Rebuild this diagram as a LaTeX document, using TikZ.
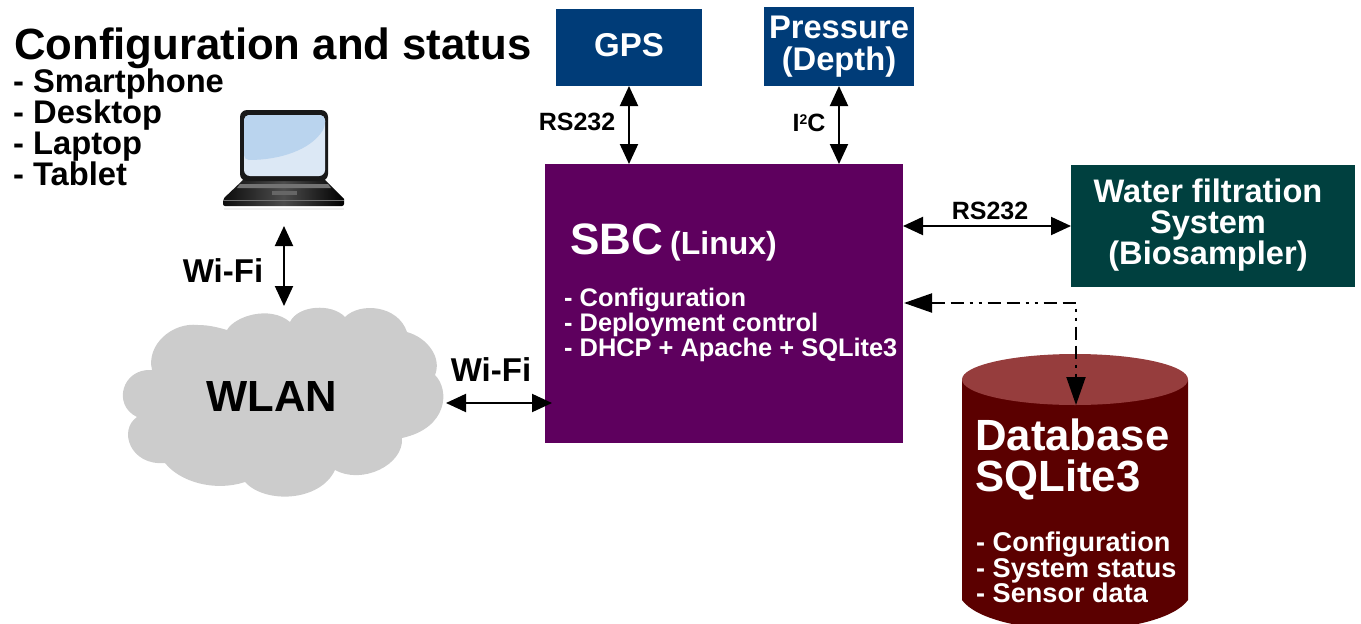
\documentclass[tikz,border=0pt]{standalone}
\usepackage{fontspec}
\setmainfont{Liberation Sans}
\usetikzlibrary{arrows.meta,calc}
\definecolor{gpsblue}{HTML}{003C78}
\definecolor{sbcpurple}{HTML}{5E005E}
\definecolor{filtergreen}{HTML}{00403F}
\definecolor{dbred}{HTML}{5B0000}
\definecolor{dbtop}{HTML}{963D3D}
\definecolor{cloudgray}{HTML}{CCCCCC}
\definecolor{screenlow}{HTML}{DCE8F5}
\definecolor{screentop}{HTML}{BAD4EE}
\tikzset{
	box/.style={draw=none,fill=#1,text=white,inner sep=0,outer sep=0,align=center,font=\bfseries},
	lab/.style={inner sep=0,font=\bfseries,text=black},
	link/.style={<->,line width=2pt,>={Triangle[length=20pt,width=18pt]}},
}
\begin{document}
\begin{tikzpicture}[x=1pt,y=-1pt]
	\useasboundingbox (0,0) rectangle (1361,624);
	% boxes
	\node[box=gpsblue,minimum width=146,minimum height=77] (gps) at (629,47.5) {};
	\node[lab,text=white,font=\bfseries\fontsize{33}{33}\selectfont] (gpstext) at (629,45) {GPS};
	\node[box=gpsblue,minimum width=150,minimum height=79,font=\bfseries\fontsize{32.7}{31.5}\selectfont] (press) at (839,46.5) {Pressure\\(Depth)};
	\node[box=sbcpurple,minimum width=358,minimum height=279] (sbc) at (724,303.5) {};
	\node[box=filtergreen,minimum width=284,minimum height=122] (filter) at (1213,226) {};
	\node[lab,text=white,align=center,font=\bfseries\fontsize{32.6}{31}\selectfont] (filtertext) at (1208,225) {Water filtration\\System\\(Biosampler)};
	\node[lab,text=white,anchor=base west,font=\bfseries\fontsize{44}{44}\selectfont] (sbctitle) at (570,254) {SBC};
	\node[lab,text=white,anchor=base west,font=\bfseries\fontsize{32}{32}\selectfont] (sbclinux) at (670,254) {(Linux)};
	\node[lab,text=white,anchor=north west,align=left,font=\bfseries\fontsize{25.4}{25}\selectfont] (sbclist) at (564,288) {- Configuration\\- Deployment control\\- DHCP + Apache + SQLite3};
	% heading
	\node[lab,anchor=base west,font=\bfseries\fontsize{43.7}{43.7}\selectfont] (title) at (14,59) {Configuration and status};
	\node[lab,anchor=north west,align=left,font=\bfseries\fontsize{32.7}{31}\selectfont] (devices) at (13,69) {- Smartphone\\- Desktop\\- Laptop\\- Tablet};
	% laptop
	\fill[black!6] (224,208) rectangle (344,210);
	\draw[left color=black!95,right color=black,middle color=black!70,draw=none] (243,180)--(325,180)--(344,199)--(344,203)[rounded corners=2]--(344,206)--(223,206)--(223,199)[sharp corners]--cycle;
	\fill[black!55] (223,199.5) rectangle (344,200.5);
	\fill[black!60] (272,191) rectangle (297,195);
	\fill[black!55] (240,184) -- (328,184) -- (331,188) -- (237,188) -- cycle;
	\fill[rounded corners=7,black!90] (240,110) rectangle (328,181);
	\fill[rounded corners=6,screenlow] (244,115) rectangle (325,176);
	\fill[rounded corners=5,screentop] (244,115)--(325,115)--(325,127) .. controls (310,150) and (280,160) .. (244,160)--cycle;
	\node[inner sep=0,minimum width=121,minimum height=96] (laptop) at (284,158) {};
	% cloud
	\fill[cloudgray] (152,370) .. controls (146,345) and (172,322) .. (198,325)
		.. controls (210,325) and (220,328) .. (227,330)
		.. controls (235,316) and (270,305) .. (290,322)
		.. controls (298,305) and (332,303) .. (345,317)
		.. controls (360,302) and (398,305) .. (407,332)
		.. controls (428,338) and (442,358) .. (435,375)
		.. controls (450,390) and (448,428) .. (402,438)
		.. controls (404,465) and (362,485) .. (335,470)
		.. controls (320,502) and (265,504) .. (245,482)
		.. controls (215,492) and (180,482) .. (165,463)
		.. controls (130,466) and (118,430) .. (137,417)
		.. controls (112,405) and (122,368) .. (152,370) -- cycle;
	\node[lab,font=\bfseries\fontsize{43.6}{43.6}\selectfont] (wlan) at (272,396) {WLAN};
	% database
	\fill[dbred] (962,380) -- (962,600) .. controls (975,618) and (1020,630) .. (1075,630)
		.. controls (1130,630) and (1175,618) .. (1188,600) -- (1188,380) -- cycle;
	\fill[dbtop] (1075,379.5) ellipse [x radius=113,y radius=25.5];
	\node[lab,text=white,anchor=north west,align=left,font=\bfseries\fontsize{43.7}{41}\selectfont] (dbtitle) at (975,419) {Database\\SQLite3};
	\node[lab,text=white,anchor=north west,align=left,font=\bfseries\fontsize{27.1}{25.5}\selectfont] (dblist) at (976,532) {- Configuration\\- System status\\- Sensor data};
	% connectors
	\coordinate (lapend) at (284,226);
	\coordinate (cloudtop) at (284,306);
	\coordinate (cloudright) at (446,403);
	\coordinate (sbcleft) at (552,403);
	\coordinate (sbcdb) at (904,303);
	\coordinate (corner) at (1076,303);
	\coordinate (dbend) at (1076,405);
	\draw[link] (gps.south) -- (gps.south |- sbc.north);
	\draw[link] (press.south) -- (press.south |- sbc.north);
	\draw[link] (sbc.east |- filter.west) -- (filter.west);
	\draw[link] (lapend) -- (cloudtop);
	\draw[link] (cloudright) -- (sbcleft);
	\draw[<->,line width=2pt,>={Triangle[length=28pt,width=19pt]},dash pattern=on 13pt off 6pt on 13pt off 6pt on 3pt off 6pt on 3pt off 6pt] (sbcdb) -- (corner) -- (dbend);
	% labels
	\node[lab,font=\bfseries\fontsize{25}{25}\selectfont] (lgps) at (577,122) {RS232};
	\node[lab,font=\bfseries\fontsize{25}{25}\selectfont] (lpress) at (809,123) {I\raisebox{.55ex}{\fontsize{14}{14}\selectfont 2}C};
	\node[lab,font=\bfseries\fontsize{25}{25}\selectfont] (lfilter) at (990,211) {RS232};
	\node[lab,font=\bfseries\fontsize{33}{33}\selectfont] (lwifia) at (223,271) {Wi-Fi};
	\node[lab,font=\bfseries\fontsize{33}{33}\selectfont] (lwifib) at (491,370) {Wi-Fi};
\end{tikzpicture}
\end{document}
